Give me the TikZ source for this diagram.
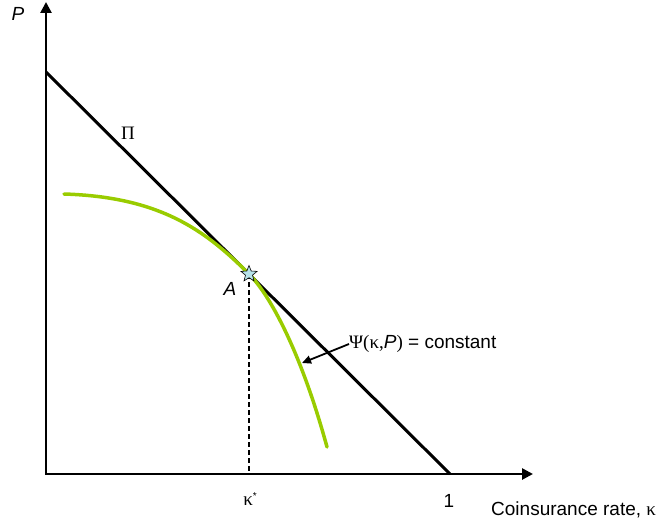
\documentclass[tikz,border=0pt]{standalone}
\usepackage{fontspec}
\setmainfont{Liberation Sans}
\newfontfamily\serifgr{Liberation Serif}
\usetikzlibrary{arrows.meta,shapes.geometric}
\definecolor{curvegreen}{HTML}{99CC00}
\definecolor{starblue}{HTML}{B7E3EA}
\begin{document}
\begin{tikzpicture}[x=1bp,y=-1bp,
  axisline/.style={line width=2.6bp,{Triangle[length=11bp,width=11bp]}-{Triangle[length=11bp,width=11bp]}},
  budget/.style={line width=3bp},
  indiff/.style={draw=curvegreen,line width=3.5bp,line cap=round},
  lbl/.style={inner sep=0pt,font=\fontsize{19bp}{22bp}\selectfont},
  guide/.style={line width=1.8bp,dash pattern=on 5bp off 3bp},
  pointer/.style={line width=1.8bp,-{Triangle[length=9bp,width=8bp]}},
  starmark/.style={star,star points=5,star point ratio=2.3,minimum size=17bp,inner sep=0pt,fill=starblue,draw=black,line width=0.6bp}]
\useasboundingbox (0,0) rectangle (656,524);
\coordinate (O) at (46,474);
\coordinate (ytop) at (46,2);
\coordinate (xend) at (533,474);
\coordinate (pistart) at (46,72);
\coordinate (piend) at (450,474);
\coordinate (Ac) at (249,274);
\coordinate (g1) at (64,194);
\coordinate (g2) at (327,447);
\coordinate (psitip) at (302,363);
% axes
\draw[axisline] (ytop) -- (O) -- (xend);
% budget line
\draw[budget] (pistart) -- (piend);
% dashed guide
\draw[guide] (Ac) -- (Ac |- O);
% indifference curve
\draw[indiff] (g1) .. controls (160,197) and (205,230) .. (Ac) .. controls (270,295) and (301,352) .. (g2);
% point A
\node[starmark] (A) at (Ac) {};
% labels
\node[lbl,font=\fontsize{19bp}{22bp}\itshape] (Plab) at (18,14) {P};
\node[lbl,font=\fontsize{19bp}{22bp}\serifgr] (Pilab) at (128,133) {Π};
\node[lbl,font=\fontsize{19bp}{22bp}\itshape] (Alab) at (230,289) {A};
\node[lbl] (kstar) at (250,499) {{\serifgr κ}\raisebox{6bp}{\fontsize{10bp}{11bp}\selectfont *}};
\node[lbl] (one) at (449,501) {1};
\node[lbl,anchor=west] (xlab) at (491,510) {Coinsurance rate, {\serifgr κ}};
\node[lbl,anchor=west] (psi) at (349,344) {{\serifgr Ψ(κ,}\textit{P}{\serifgr )} = constant};
\draw[pointer] (psi.west) -- (psitip);
\end{tikzpicture}
\end{document}
